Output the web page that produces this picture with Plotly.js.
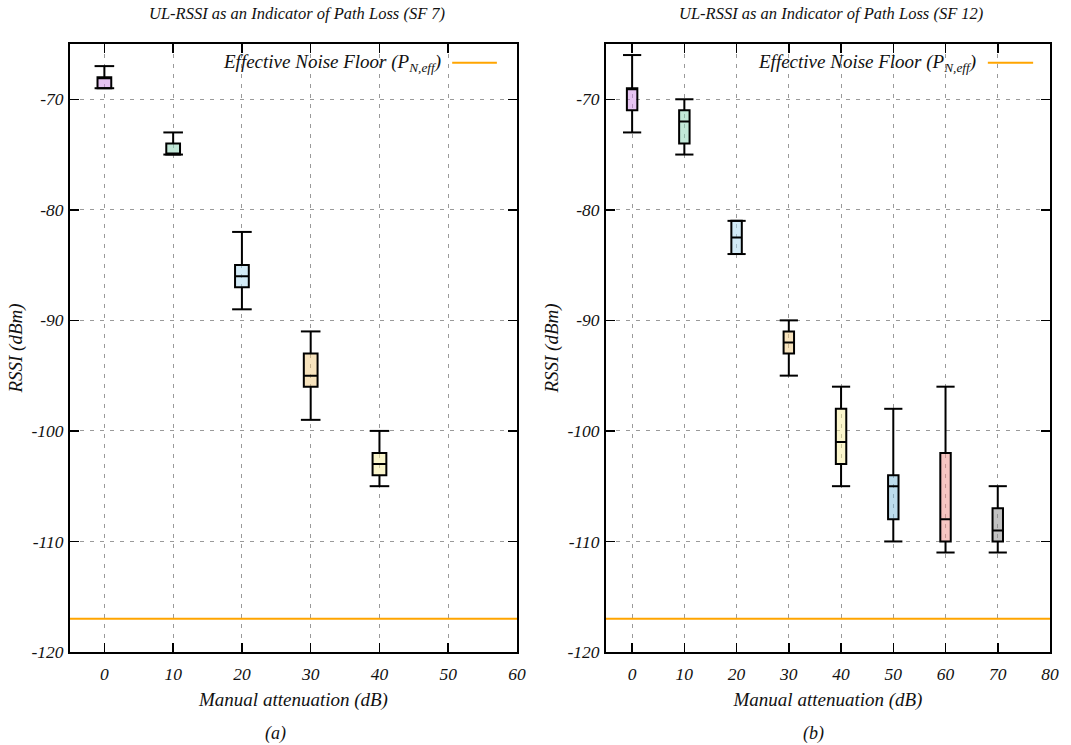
<!DOCTYPE html>
<html>
<head>
<meta charset="utf-8">
<script src="https://cdn.plot.ly/plotly-3.0.1.min.js"></script>
<style>html,body{margin:0;padding:0;background:#fff;}#chart{width:1071px;height:745px;}</style>
</head>
<body>
<div id="chart"></div>
<script>
// ---- data ----
const sf7Att = [0, 10, 20, 30, 40];
const sf7Max = [-67, -73, -82, -91, -100];
const sf7Q3  = [-68, -74, -85, -93, -102];
const sf7Med = [-68, -75, -86, -95, -103];
const sf7Q1  = [-69, -75, -87, -96, -104];
const sf7Min = [-69, -75, -89, -99, -105];

const sf12Att = [0, 10, 20, 30, 40, 50, 60, 70];
const sf12Max = [-66, -70, -81, -90, -96, -98, -96, -105];
const sf12Q3  = [-69, -71, -81, -91, -98, -104, -102, -107];
const sf12Med = [-69, -72, -82.5, -92, -101, -105, -108, -109];
const sf12Q1  = [-71, -74, -84, -93, -103, -108, -110, -110];
const sf12Min = [-73, -75, -84, -95, -105, -110, -111, -111];

const noiseFloor = -117;
const yTicks = [-120, -110, -100, -90, -80, -70];
const xTicksA = [0, 10, 20, 30, 40, 50, 60];
const xTicksB = [0, 10, 20, 30, 40, 50, 60, 70, 80];

// ---- styles ----
const attColors = {
  0: 'rgba(205,135,229,0.5)',
  10: 'rgba(133,209,177,0.5)',
  20: 'rgba(167,215,239,0.5)',
  30: 'rgba(239,199,123,0.5)',
  40: 'rgba(247,237,153,0.5)',
  50: 'rgba(123,185,217,0.5)',
  60: 'rgba(239,141,133,0.5)',
  70: 'rgba(133,133,133,0.5)'
};
const FONT = 'Liberation Serif';
const f = (s) => ({family: FONT, size: s, color: '#111', style: 'italic'});

const traces = [];
function addSet(att, mx, q3, med, q1, mn, xa, ya, capSize) {
  att.forEach((a, i) => {
    traces.push({
      type: 'box', xaxis: xa, yaxis: ya,
      x: [a], q1: [q1[i]], median: [med[i]], q3: [q3[i]],
      lowerfence: [mn[i]], upperfence: [mx[i]],
      width: 2, whiskerwidth: 0,
      fillcolor: attColors[a],
      line: {color: '#000', width: 2},
      showlegend: false, hoverinfo: 'skip'
    });
  });
  traces.push({
    type: 'scatter', mode: 'markers', xaxis: xa, yaxis: ya,
    x: att.concat(att), y: mx.concat(mn),
    marker: {symbol: 'line-ew', size: capSize, color: '#000', line: {color: '#000', width: 2}},
    showlegend: false, hoverinfo: 'skip'
  });
}
addSet(sf7Att, sf7Max, sf7Q3, sf7Med, sf7Q1, sf7Min, 'x', 'y', 14);
addSet(sf12Att, sf12Max, sf12Q3, sf12Med, sf12Q1, sf12Min, 'x2', 'y2', 13);

const W = 1071, H = 745;
const yDom = [(H - 652) / H, (H - 44) / H];
function xAxis(dom, range, ticks, anchor) {
  return {
    domain: dom, range: range, anchor: anchor,
    tickmode: 'array', tickvals: ticks, ticktext: ticks.map(String),
    ticks: 'inside', ticklen: 9, tickwidth: 1.5, tickcolor: '#000',
    showline: true, linecolor: '#000', linewidth: 2, mirror: 'ticks',
    showgrid: true, gridcolor: '#9a9a9a', gridwidth: 1, griddash: '4px,6px',
    zeroline: false, tickfont: f(17.5), ticklabelstandoff: 5,
    title: {text: 'Manual attenuation (dB)', font: f(19), standoff: 10}
  };
}
function yAxis(anchor) {
  return {
    domain: yDom, range: [-120, -65], anchor: anchor,
    tickmode: 'array', tickvals: yTicks, ticktext: yTicks.map(String),
    ticks: 'inside', ticklen: 9, tickwidth: 1.5, tickcolor: '#000',
    showline: true, linecolor: '#000', linewidth: 2, mirror: 'ticks',
    showgrid: true, gridcolor: '#9a9a9a', gridwidth: 1, griddash: '4px,6px',
    zeroline: false, tickfont: f(17.5), ticklabelstandoff: 1,
    title: {text: 'RSSI (dBm)', font: f(19), standoff: 4}
  };
}

const layout = {
  width: W, height: H,
  margin: {l: 0, r: 0, t: 0, b: 0},
  paper_bgcolor: '#fff', plot_bgcolor: '#fff',
  boxmode: 'overlay', showlegend: false,
  xaxis: xAxis([70 / W, 517 / W], [-5, 60], xTicksA, 'y'),
  yaxis: yAxis('x'),
  xaxis2: xAxis([606 / W, 1050 / W], [-5, 80], xTicksB, 'y2'),
  yaxis2: yAxis('x2'),
  shapes: [
    {type: 'line', xref: 'x domain', yref: 'y', x0: 0, x1: 1, y0: noiseFloor, y1: noiseFloor, line: {color: '#ffa500', width: 2}},
    {type: 'line', xref: 'x2 domain', yref: 'y2', x0: 0, x1: 1, y0: noiseFloor, y1: noiseFloor, line: {color: '#ffa500', width: 2}},
    {type: 'line', xref: 'x domain', yref: 'y domain', x0: 0.855, x1: 0.955, y0: 0.969, y1: 0.969, line: {color: '#ffa500', width: 2}},
    {type: 'line', xref: 'x2 domain', yref: 'y2 domain', x0: 0.860, x1: 0.962, y0: 0.969, y1: 0.969, line: {color: '#ffa500', width: 2}}
  ],
  annotations: [
    {text: 'UL-RSSI as an Indicator of Path Loss (SF 7)', xref: 'paper', yref: 'paper', x: 297 / W, y: 1 - 14 / H, showarrow: false, font: f(16.5), xanchor: 'center', yanchor: 'middle'},
    {text: 'UL-RSSI as an Indicator of Path Loss (SF 12)', xref: 'paper', yref: 'paper', x: 831 / W, y: 1 - 14 / H, showarrow: false, font: f(16.5), xanchor: 'center', yanchor: 'middle'},
    {text: 'Effective Noise Floor (P<sub>N,eff</sub>)', xref: 'x domain', yref: 'y domain', x: 0.834, y: 0.969, xanchor: 'right', yanchor: 'middle', showarrow: false, font: f(19)},
    {text: 'Effective Noise Floor (P<sub>N,eff</sub>)', xref: 'x2 domain', yref: 'y2 domain', x: 0.838, y: 0.969, xanchor: 'right', yanchor: 'middle', showarrow: false, font: f(19)},
    {text: '(a)', xref: 'paper', yref: 'paper', x: 276 / W, y: 1 - 733 / H, showarrow: false, font: f(18), xanchor: 'center', yanchor: 'middle'},
    {text: '(b)', xref: 'paper', yref: 'paper', x: 813 / W, y: 1 - 733 / H, showarrow: false, font: f(18), xanchor: 'center', yanchor: 'middle'}
  ]
};

Plotly.newPlot('chart', traces, layout, {staticPlot: true, displayModeBar: false});
</script>
</body>
</html>
